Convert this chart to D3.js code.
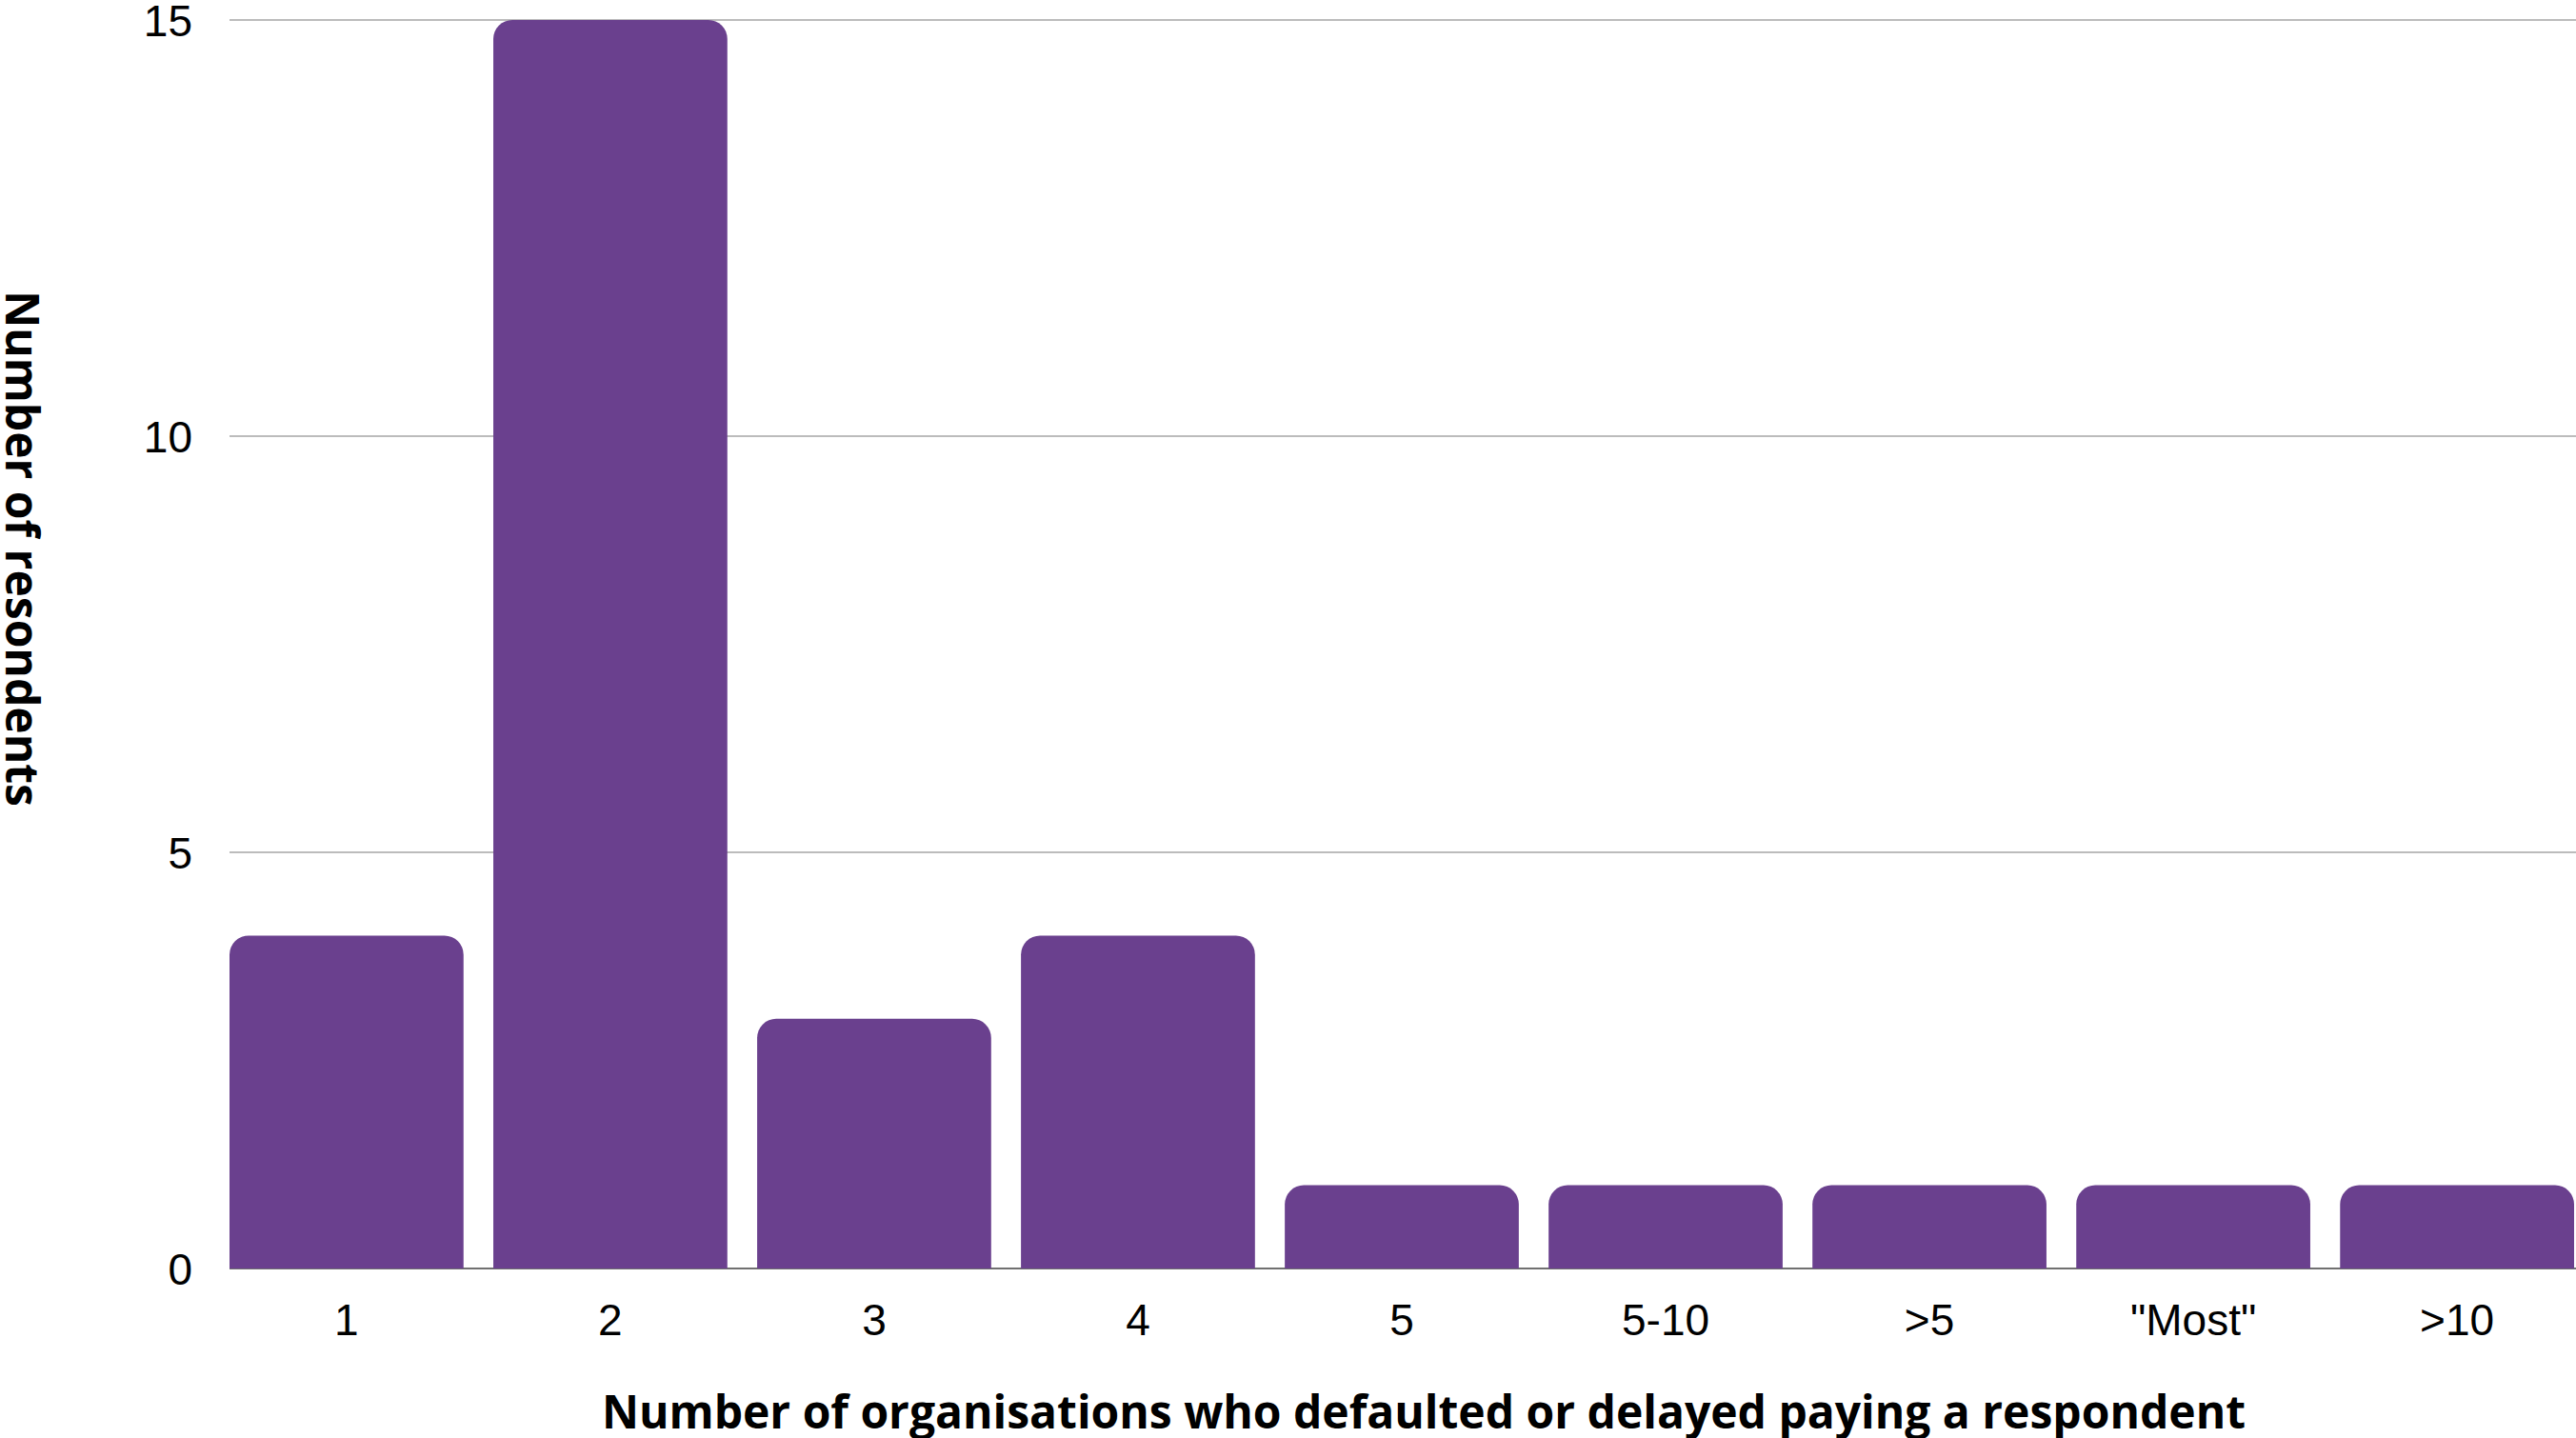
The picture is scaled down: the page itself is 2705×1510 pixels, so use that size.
<!DOCTYPE html>
<html>
<head>
<meta charset="utf-8">
<script src="https://cdn.jsdelivr.net/npm/d3@7"></script>
<style>
    html, body { margin: 0; padding: 0; background: #fff; }
    svg { display: block; }
    .tick-label { font-family: "Liberation Sans", Arial, sans-serif; font-size: 46px; fill: #000; }
    .axis-title { font-family: "Open Sans", sans-serif; font-weight: 700; font-size: 48px; fill: #000; }
</style>
</head>
<body>
<div id="chart"></div>
<script>
// Chart data
const categories = ['1', '2', '3', '4', '5', '5-10', '>5', '"Most"', '>10'];
const respondents = [4, 15, 3, 4, 1, 1, 1, 1, 1];
const yTicks = [0, 5, 10, 15];

const xTitle = 'Number of organisations who defaulted or delayed paying a respondent';
const yTitle = 'Number of resondents';

const width = 2705;
const height = 1510;
const margin = { top: 21, right: 2, bottom: 178, left: 241 };

const barColor = '#6a408e';
const radius = 20;

const svg = d3.select('#chart')
    .append('svg')
    .attr('width', width)
    .attr('height', height);

// Scales
const x = d3.scaleBand()
    .domain(categories)
    .range([margin.left, width - margin.right])
    .paddingInner(0.113)
    .paddingOuter(0);

const y = d3.scaleLinear()
    .domain([0, 15])
    .range([height - margin.bottom, margin.top]);

// Gridlines
svg.append('g')
    .selectAll('line')
    .data(yTicks.filter(t => t > 0))
    .enter()
    .append('line')
    .attr('x1', margin.left)
    .attr('x2', width)
    .attr('y1', d => y(d))
    .attr('y2', d => y(d))
    .attr('stroke', '#bcbcbc')
    .attr('stroke-width', 2);

// Baseline
svg.append('line')
    .attr('x1', margin.left)
    .attr('x2', width)
    .attr('y1', y(0))
    .attr('y2', y(0))
    .attr('stroke', '#707070')
    .attr('stroke-width', 2);

// Bars with rounded top corners only
function barPath(x0, y0, w, h, r) {
    const rr = Math.min(r, h / 2, w / 2);
    return `M${x0},${y0 + h}` +
        `V${y0 + rr}` +
        `A${rr},${rr} 0 0 1 ${x0 + rr},${y0}` +
        `H${x0 + w - rr}` +
        `A${rr},${rr} 0 0 1 ${x0 + w},${y0 + rr}` +
        `V${y0 + h}Z`;
}

svg.append('g')
    .selectAll('path')
    .data(categories.map((c, i) => ({ cat: c, val: respondents[i] })))
    .enter()
    .append('path')
    .attr('d', d => barPath(x(d.cat), y(d.val), x.bandwidth(), y(0) - y(d.val), radius))
    .attr('fill', barColor);

// Y tick labels
svg.append('g')
    .selectAll('text')
    .data(yTicks)
    .enter()
    .append('text')
    .attr('class', 'tick-label')
    .attr('x', 202)
    .attr('y', d => y(d) + 17)
    .attr('text-anchor', 'end')
    .text(d => d);

// X tick labels
svg.append('g')
    .selectAll('text')
    .data(categories)
    .enter()
    .append('text')
    .attr('class', 'tick-label')
    .attr('x', d => x(d) + x.bandwidth() / 2)
    .attr('y', 1402)
    .attr('text-anchor', 'middle')
    .text(d => d);

// Axis titles
svg.append('text')
    .attr('class', 'axis-title')
    .attr('x', 1495)
    .attr('y', 1500)
    .attr('text-anchor', 'middle')
    .text(xTitle);

svg.append('text')
    .attr('class', 'axis-title')
    .attr('transform', 'translate(6,576) rotate(90)')
    .attr('text-anchor', 'middle')
    .text(yTitle);
</script>
</body>
</html>
